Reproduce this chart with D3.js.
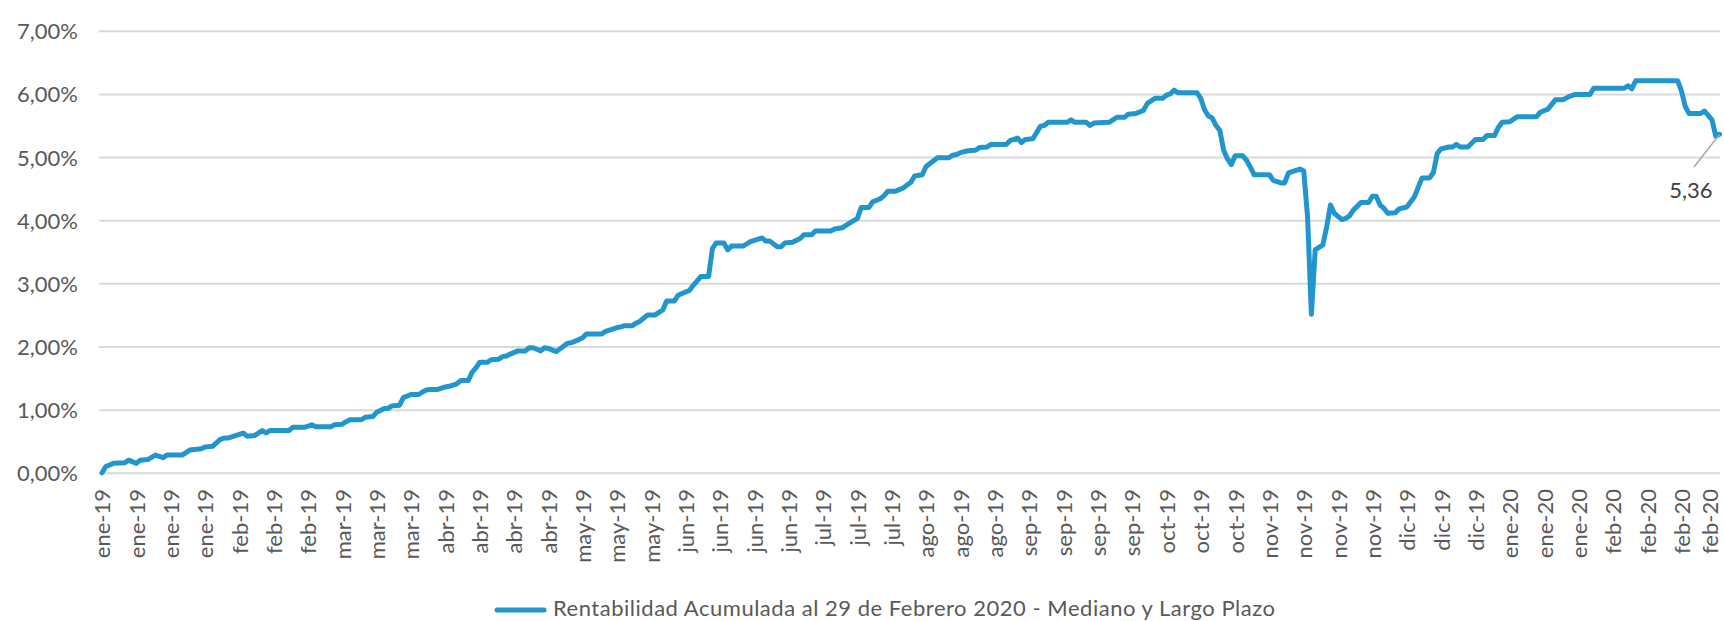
<!DOCTYPE html>
<meta charset="utf-8">
<html>
  <head>
    <script src="https://cdn.jsdelivr.net/npm/d3@7"></script>
    <style>
      body {
        margin: 0;
        background: white;
      }
      text {
        font-family: Lato, "Open Sans", sans-serif;
      }
    </style>
  </head>
  <body>
    <div id="chart"></div>
    <script>
      // dias desde el 01-01-2019 y rentabilidad acumulada (%)
      const dias = [
        0, 1, 3, 6, 7, 9, 10, 12, 14, 16, 17, 21, 23, 26, 27, 29, 31, 32, 33, 35,
        36, 37, 38, 40, 42, 43, 44, 49, 50, 53, 55, 56, 60, 61, 63, 64, 65, 68, 69, 71,
        72, 74, 75, 76, 78, 79, 81, 83, 84, 85, 86, 88, 90, 91, 93,
        94, 96, 97, 98, 99, 101, 102, 104, 105, 106, 107, 109, 111, 112, 113, 115, 116, 117, 119, 120,
        122, 123, 125, 126, 127, 131, 132, 133, 135, 136, 137, 139, 140, 141, 143, 145, 147, 148, 150, 151,
        152, 154, 155, 157, 159, 160, 161, 163, 164, 165, 168, 170, 171, 173, 174, 175, 177, 178, 179, 181,
        183, 184, 186, 187, 191, 192, 194,
        195, 198, 199, 201, 202, 204, 205, 206, 208, 210, 212, 213, 215, 216, 219, 222, 223, 224, 225, 227,
        229, 230, 232, 233, 237, 238, 240, 241, 242, 244, 246, 247, 248, 253, 254, 255, 258, 259, 260, 264,
        266, 268, 269, 271, 273, 274, 276, 278, 279, 280, 281, 282, 287, 288, 289, 290, 291, 292,
        293, 294, 295, 296, 297, 299, 300, 301, 302, 306, 307, 309, 310, 311, 312, 314, 315, 316, 317, 318,
        320, 321, 322, 323, 325, 326, 327, 328, 330, 332, 333, 334, 335, 336, 337, 339, 340, 342, 343, 344,
        346, 348, 349, 350, 351, 353, 354, 355, 356, 358,
        360, 362, 363, 365, 366, 367, 369, 371, 376, 377, 379, 381, 383, 385, 386, 390, 391, 399, 400, 401,
        402, 413, 414, 415, 416, 419, 420, 422, 423, 424
      ];
      const rentabilidad = [
        0.00, 0.10, 0.15, 0.16, 0.20, 0.15, 0.20, 0.21, 0.28, 0.24, 0.28, 0.28, 0.36, 0.38, 0.41, 0.42, 0.53, 0.55, 0.55, 0.59,
        0.61, 0.63, 0.58, 0.59, 0.67, 0.63, 0.67, 0.67, 0.72, 0.72, 0.76, 0.73, 0.73, 0.76, 0.77, 0.81, 0.84, 0.84, 0.88, 0.89,
        0.96, 1.02, 1.02, 1.06, 1.07, 1.19, 1.24, 1.24, 1.28, 1.31, 1.32, 1.32, 1.36, 1.37, 1.41,
        1.46, 1.46, 1.59, 1.66, 1.75, 1.75, 1.79, 1.80, 1.84, 1.85, 1.88, 1.93, 1.93, 1.98, 1.98, 1.93, 1.98, 1.97, 1.92, 1.96,
        2.05, 2.06, 2.11, 2.14, 2.20, 2.20, 2.24, 2.26, 2.30, 2.31, 2.33, 2.33, 2.37, 2.40, 2.50, 2.50, 2.58, 2.72, 2.72, 2.81,
        2.84, 2.89, 2.97, 3.11, 3.11, 3.55, 3.64, 3.64, 3.53, 3.59, 3.59, 3.66, 3.68, 3.72, 3.67, 3.67, 3.58, 3.58, 3.64, 3.65,
        3.71, 3.77, 3.77, 3.83, 3.83, 3.86, 3.88,
        3.92, 4.03, 4.20, 4.20, 4.29, 4.34, 4.39, 4.46, 4.46, 4.51, 4.60, 4.70, 4.72, 4.85, 4.99, 4.99, 5.03, 5.04, 5.07, 5.10,
        5.11, 5.15, 5.16, 5.20, 5.20, 5.26, 5.30, 5.23, 5.28, 5.29, 5.49, 5.50, 5.55, 5.55, 5.59, 5.55, 5.55, 5.50, 5.54, 5.55,
        5.63, 5.63, 5.68, 5.69, 5.74, 5.85, 5.93, 5.93, 5.98, 6.00, 6.06, 6.02, 6.02, 5.93, 5.75, 5.65, 5.62, 5.50,
        5.42, 5.11, 4.97, 4.88, 5.02, 5.02, 4.95, 4.84, 4.72, 4.72, 4.63, 4.59, 4.59, 4.75, 4.77, 4.81, 4.78, 4.05, 2.51, 3.53,
        3.61, 3.89, 4.24, 4.11, 4.01, 4.03, 4.07, 4.16, 4.28, 4.28, 4.38, 4.38, 4.24, 4.19, 4.11, 4.12, 4.18, 4.21, 4.29, 4.37,
        4.67, 4.67, 4.76, 5.06, 5.13, 5.16, 5.16, 5.20, 5.16, 5.16,
        5.28, 5.28, 5.34, 5.34, 5.47, 5.55, 5.56, 5.64, 5.64, 5.71, 5.76, 5.91, 5.91, 5.97, 5.99, 5.99, 6.09, 6.09, 6.13, 6.08,
        6.21, 6.21, 6.05, 5.80, 5.69, 5.69, 5.73, 5.59, 5.33, 5.36
      ];
      const meses = ["ene", "feb", "mar", "abr", "may", "jun", "jul", "ago", "sep", "oct", "nov", "dic"];
      const yTicks = [0, 1, 2, 3, 4, 5, 6, 7];
      const serieNombre = "Rentabilidad Acumulada al 29 de Febrero 2020 - Mediano y Largo Plazo";
      const etiquetaFinal = "5,36";

      const width = 1724, height = 621;
      const color = "#2196ce";
      const inicio = new Date(Date.UTC(2019, 0, 1));
      const fecha = (d) => d3.utcDay.offset(inicio, d);

      const data = dias.map((d, i) => ({date: fecha(d), value: rentabilidad[i]}));

      const svg = d3.select("#chart").append("svg")
        .attr("width", width)
        .attr("height", height);

      const x = d3.scaleUtc()
        .domain([inicio, fecha(424)])
        .range([102, 1719.6]);
      const y = d3.scaleLinear()
        .domain([0, 7])
        .range([472.8, 30.8]);

      const es = d3.formatLocale({decimal: ",", thousands: ".", grouping: [3], currency: ["", ""]});
      const pct = (d) => es.format(".2f")(d) + "%";

      // grid + y labels
      const yAxis = svg.append("g")
        .attr("transform", "translate(99,0)")
        .call(d3.axisLeft(y).tickValues(yTicks).tickSize(-1621).tickPadding(21).tickFormat(pct));
      yAxis.select(".domain").remove();
      yAxis.selectAll(".tick line").attr("stroke", "#d9d9d9").attr("stroke-width", 2);
      yAxis.selectAll(".tick text")
        .attr("fill", "#595959")
        .attr("dy", "0.36em")
        .style("font-size", "22px");

      // x labels every 9 days, rotated
      const xTicks = d3.range(0, 424, 9).map(fecha);
      const xAxis = svg.append("g")
        .attr("transform", "translate(0,489)")
        .call(d3.axisBottom(x).tickValues(xTicks).tickSize(0)
          .tickFormat((d) => `${meses[d.getUTCMonth()]}-${String(d.getUTCFullYear()).slice(2)}`));
      xAxis.select(".domain").remove();
      xAxis.selectAll(".tick text")
        .attr("fill", "#595959")
        .attr("x", 0)
        .attr("y", 0)
        .attr("dy", (d, i) => i === xTicks.length - 1 ? "0.1em" : "0.36em")
        .attr("transform", "rotate(-90)")
        .style("text-anchor", "end")
        .style("font-size", "22px");

      const line = d3.line()
        .x((d) => x(d.date))
        .y((d) => y(d.value));

      svg.append("path")
        .datum(data)
        .attr("fill", "none")
        .attr("stroke", color)
        .attr("stroke-width", 5)
        .attr("stroke-linejoin", "round")
        .attr("stroke-linecap", "round")
        .attr("d", line);

      // data label for the last point
      const last = data[data.length - 1];
      svg.append("line")
        .attr("x1", x(last.date))
        .attr("y1", y(last.value))
        .attr("x2", 1694)
        .attr("y2", 167)
        .attr("stroke", "#a6a6a6")
        .attr("stroke-width", 1.5);
      svg.append("text")
        .attr("x", 1691)
        .attr("y", 198)
        .attr("text-anchor", "middle")
        .attr("fill", "#404040")
        .style("font-size", "22px")
        .text(etiquetaFinal);

      // legend
      svg.append("line")
        .attr("x1", 497).attr("x2", 544)
        .attr("y1", 610).attr("y2", 610)
        .attr("stroke", color)
        .attr("stroke-width", 5)
        .attr("stroke-linecap", "round");
      svg.append("text")
        .attr("x", 553)
        .attr("y", 616)
        .attr("fill", "#595959")
        .attr("textLength", 722)
        .attr("lengthAdjust", "spacing")
        .style("font-size", "22px")
        .text(serieNombre);
    </script>
  </body>
</html>
